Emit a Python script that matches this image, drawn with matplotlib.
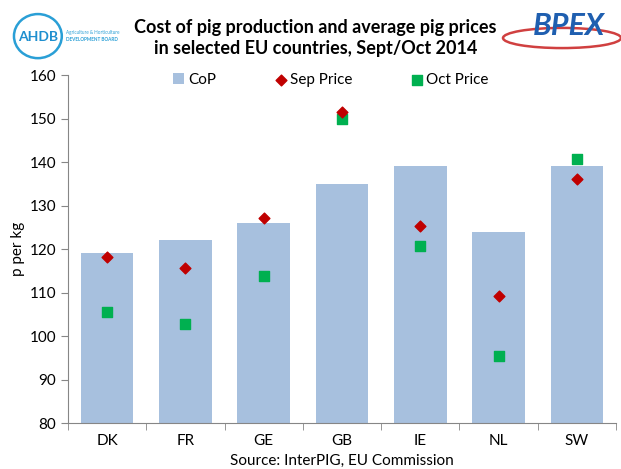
import matplotlib.pyplot as plt
from matplotlib.patches import Ellipse

countries = ["DK", "FR", "GE", "GB", "IE", "NL", "SW"]
cop = [119, 122, 126, 135, 139, 124, 139]
sep_price = [118.1, 115.7, 127.1, 151.5, 125.2, 109.3, 136.2]
oct_price = [105.6, 102.8, 113.8, 150.0, 120.6, 95.5, 140.6]

plt.rcParams["font.family"] = ["Lato", "DejaVu Sans"]

fig = plt.figure(figsize=(6.21, 4.69), dpi=100)
ax = fig.add_axes([0.1095, 0.098, 0.8825, 0.742])

x = range(len(countries))
bars = ax.bar(x, cop, width=0.67, color="#a7c0de", label="CoP", zorder=1)
sep = ax.scatter(x, sep_price, marker="D", s=30, color="#c00000", label="Sep Price", zorder=3)
octo = ax.scatter(x, oct_price, marker="s", s=52, color="#00b050", label="Oct Price", zorder=2)

ax.set_xlim(-0.5, len(countries) - 0.5)
ax.set_ylim(80, 160)
ax.set_yticks(range(80, 161, 10))
ax.set_xticks(list(x))
ax.set_xticklabels(countries)
ax.set_xticks([i + 0.5 for i in range(-1, len(countries))], minor=True)
ax.tick_params(axis="x", which="major", length=0, pad=8, labelsize=11)
ax.tick_params(axis="x", which="minor", length=5, color="#868686")
ax.tick_params(axis="y", length=5, color="#868686", labelsize=11)
for s in ["top", "right"]:
    ax.spines[s].set_visible(False)
for s in ["left", "bottom"]:
    ax.spines[s].set_color("#868686")
ax.set_ylabel("p per kg", fontsize=11, labelpad=3)

ax.legend([bars, sep, octo], ["CoP", "Sep Price", "Oct Price"],
          loc="upper center", bbox_to_anchor=(0.48, 1.045), ncol=3, frameon=False,
          fontsize=11, handletextpad=0.25, columnspacing=3.9,
          handlelength=0.7, handleheight=0.7)

fig.text(0.508, 0.918, "Cost of pig production and average pig prices\nin selected EU countries, Sept/Oct 2014",
         ha="center", va="center", fontsize=13, fontweight="bold", linespacing=1.28)
fig.text(0.55, 0.017, "Source: InterPIG, EU Commission", ha="center", va="center", fontsize=11)

# AHDB logo
fig.patches.append(Ellipse((0.061, 0.923), 0.077, 0.094, transform=fig.transFigure,
                           fill=False, edgecolor="#2a9fd6", lw=1.8))
fig.text(0.061, 0.921, "AHDB", ha="center", va="center", fontsize=10,
         color="#1f8fcf", fontweight="bold")
fig.text(0.106, 0.930, "Agriculture & Horticulture", fontsize=3.3, color="#2a9fd6", va="center")
fig.text(0.106, 0.915, "DEVELOPMENT BOARD", fontsize=3.3, color="#2a9fd6", va="center",
         fontweight="bold")

# BPEX logo
fig.patches.append(Ellipse((0.905, 0.919), 0.19, 0.043, transform=fig.transFigure,
                           fill=False, edgecolor="#d04040", lw=1.8))
fig.text(0.916, 0.945, "BPEX", ha="center", va="center", fontsize=22,
         color="#1f5fb0", fontweight="bold", style="italic")

fig.savefig("out.png", dpi=100)
